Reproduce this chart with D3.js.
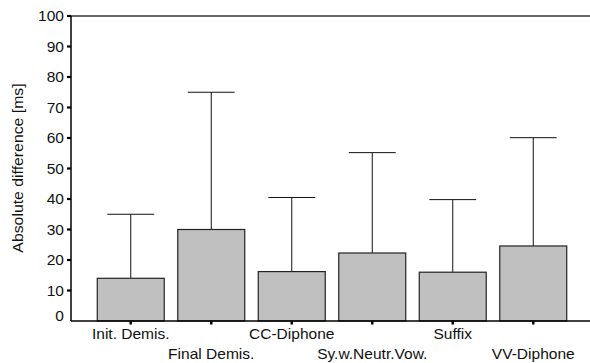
<!DOCTYPE html>
<html>
<head>
<meta charset="utf-8">
<script src="https://cdn.jsdelivr.net/npm/d3@7"></script>
<style>
  body { margin: 0; background: #fff; }
  svg { display: block; font-family: "Liberation Sans", Arial, sans-serif; }
</style>
</head>
<body>
<script>
// values
const categories = ["Init. Demis.", "Final Demis.", "CC-Diphone", "Sy.w.Neutr.Vow.", "Suffix", "VV-Diphone"]
const means = [14, 30, 16.2, 22.3, 16, 24.6]
const upper = [35, 75, 40.5, 55.2, 39.8, 60.1]
const yTicks = [0, 10, 20, 30, 40, 50, 60, 70, 80, 90, 100]

const width = 590
const height = 363
const margin = {top: 16, right: 0, bottom: 42, left: 71}
const stretch = 1.11 // text in the original is drawn a bit wide

const data = categories.map((c, i) => ({name: c, mean: means[i], hi: upper[i]}))

const svg = d3.select("body")
  .append("svg")
  .attr("width", width)
  .attr("height", height)

const x = d3.scaleBand()
  .domain(categories)
  .range([margin.left + 19.5, width - 16.5])
  .paddingInner(0.168)
  .paddingOuter(0.084)

const y = d3.scaleLinear()
  .domain([0, 100])
  .range([height - margin.bottom, margin.top])

// error whiskers first, bars drawn on top
const whisk = svg.append("g")
  .selectAll("g")
  .data(data)
  .join("g")
  .attr("stroke", "#111")
  .attr("stroke-width", 1)

whisk.append("line")
  .attr("x1", d => x(d.name) + x.bandwidth() / 2)
  .attr("x2", d => x(d.name) + x.bandwidth() / 2)
  .attr("y1", d => y(d.mean))
  .attr("y2", d => y(d.hi))

whisk.append("line")
  .attr("x1", d => x(d.name) + x.bandwidth() * 0.15)
  .attr("x2", d => x(d.name) + x.bandwidth() * 0.85)
  .attr("y1", d => y(d.hi))
  .attr("y2", d => y(d.hi))

svg.append("g")
  .selectAll("rect")
  .data(data)
  .join("rect")
  .attr("x", d => x(d.name))
  .attr("width", x.bandwidth())
  .attr("y", d => y(d.mean))
  .attr("height", d => y(0) - y(d.mean))
  .attr("fill", "#c0c0c0")
  .attr("stroke", "#222")
  .attr("stroke-width", 1.2)

// frame: left axis, top line, bottom axis
svg.append("line")
  .attr("x1", margin.left).attr("x2", width)
  .attr("y1", y(100)).attr("y2", y(100))
  .attr("stroke", "#333").attr("stroke-width", 1.3)

svg.append("line")
  .attr("x1", margin.left).attr("x2", width)
  .attr("y1", y(0)).attr("y2", y(0))
  .attr("stroke", "#000").attr("stroke-width", 1.5)

svg.append("line")
  .attr("x1", margin.left).attr("x2", margin.left)
  .attr("y1", y(0)).attr("y2", y(100))
  .attr("stroke", "#000").attr("stroke-width", 1.5)

// y ticks
const yg = svg.append("g")
yg.selectAll("line")
  .data(yTicks.filter(d => d > 0))
  .join("line")
  .attr("x1", margin.left - 4).attr("x2", margin.left)
  .attr("y1", d => y(d)).attr("y2", d => y(d))
  .attr("stroke", "#000").attr("stroke-width", 2.2)

yg.selectAll("text")
  .data(yTicks)
  .join("text")
  .attr("transform", d => `translate(${margin.left - 7},${y(d) + (d === 0 ? -5 : 0)}) scale(${stretch},1)`)
  .attr("dy", "0.36em")
  .attr("text-anchor", "end")
  .attr("font-size", 14)
  .attr("fill", "#111")
  .text(d => d)

// x ticks and staggered labels
const xg = svg.append("g")
xg.selectAll("line")
  .data(categories)
  .join("line")
  .attr("x1", d => x(d) + x.bandwidth() / 2)
  .attr("x2", d => x(d) + x.bandwidth() / 2)
  .attr("y1", y(0)).attr("y2", y(0) + 3.5)
  .attr("stroke", "#000").attr("stroke-width", 2.5)

xg.selectAll("text")
  .data(categories)
  .join("text")
  .attr("transform", (d, i) => `translate(${x(d) + x.bandwidth() / 2},${i % 2 ? 358.5 : 339}) scale(${stretch},1)`)
  .attr("text-anchor", "middle")
  .attr("font-size", 14)
  .attr("fill", "#111")
  .text(d => d)

svg.append("text")
  .attr("transform", `translate(23,168) rotate(-90) scale(${stretch + 0.02},1)`)
  .attr("text-anchor", "middle")
  .attr("font-size", 14)
  .attr("fill", "#111")
  .text("Absolute difference [ms]")
</script>
</body>
</html>
